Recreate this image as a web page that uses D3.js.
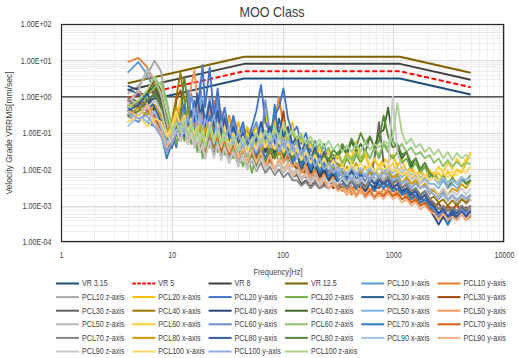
<!DOCTYPE html>
<html>
<head>
<meta charset="utf-8">
<script src="https://cdn.jsdelivr.net/npm/d3@7"></script>
<style>
  body { margin: 0; background: #fff; }
  text { font-family: "Liberation Sans", Arial, sans-serif; fill: #404040; }
</style>
</head>
<body>
<script>
// frequency points [Hz] shared by every PCL series
var freqHz = [4,5,6,7,8,9,10,11,12,13,14,15,16,17,18,19,20,
  22,24,26,28,30,33,36,40,44,48,
  53,58,64,70,77,85,93,102,112,123,
  135,148,163,179,197,216,238,261,287,316,
  347,382,420,462,508,559,615,676,744,818,
  900,990,1089,1198,1318,1450,1595,1754,1930,2123,
  2335,2569,2826,3108,3419,3761,4137,4551,5000];

// velocity criteria curves
var vrFreq = [4, 45, 1150, 5000];
var vr315 = [0.59, 3.15, 3.15, 1.15];
var vr5 = [0.94, 5, 5, 1.82];
var vr8 = [1.5, 8, 8, 2.91];
var vr125 = [2.34, 12.5, 12.5, 4.55];

// measured spectra [mm/sec]
var pcl10x = [4.6,9,4,1.5,0.6,0.12,0.08,0.3,0.15,0.4,0.2,1.2,0.3,0.15,2.5,0.4,0.1,
  0.6,0.15,0.9,0.12,0.3,0.08,0.25,0.06,0.15,0.05,
  0.12,0.04,0.2,0.05,0.15,0.06,0.1,0.03,0.08,0.025,
  0.04,0.015,0.05,0.012,0.03,0.01,0.025,0.008,0.015,0.006,
  0.008,0.004,0.01,0.005,0.007,0.004,0.009,0.005,0.006,0.003,
  0.006,0.004,0.007,0.003,0.004,0.002,0.003,0.0015,0.002,0.001,
  0.0007,0.0004,0.0009,0.0005,0.0008,0.0006,0.001,0.0005,0.0008];
var pcl10y = [9,11.7,6.5,2,0.5,0.1,0.06,0.2,0.5,0.15,0.3,0.08,0.5,0.9,0.6,0.2,0.3,
  0.25,0.8,0.2,0.4,0.1,0.3,0.08,0.2,0.05,0.12,
  0.05,0.1,0.03,0.08,0.04,0.2,1.0,0.15,0.05,0.03,
  0.02,0.03,0.012,0.02,0.01,0.015,0.007,0.01,0.005,0.006,
  0.0025,0.004,0.002,0.003,0.0022,0.0035,0.002,0.003,0.0018,0.003,
  0.002,0.003,0.0018,0.0025,0.0015,0.002,0.0012,0.0018,0.001,0.0014,
  0.0008,0.0012,0.0006,0.0009,0.0007,0.001,0.0006,0.0009,0.0005];
var pcl10z = [1.2,2,4,9.8,5,0.6,0.1,0.2,0.08,0.15,0.06,0.1,0.2,0.07,0.12,0.05,0.08,
  0.1,0.25,0.07,0.15,0.05,0.12,0.04,0.08,0.03,0.06,
  0.03,0.06,0.02,0.05,0.02,0.04,0.025,0.05,0.015,0.03,
  0.012,0.02,0.008,0.012,0.006,0.01,0.005,0.008,0.004,0.006,
  0.005,0.008,0.004,0.006,0.005,0.007,0.004,0.006,0.005,0.008,
  0.01,0.006,0.008,0.004,0.006,0.003,0.005,0.003,0.004,0.002,
  0.003,0.0018,0.0025,0.0015,0.002,0.0012,0.0018,0.0011,0.0015];
var pcl20x = [0.6,0.5,0.8,0.4,0.3,0.1,0.15,0.05,0.2,0.08,0.3,0.1,0.4,0.15,0.6,0.2,0.3,
  0.15,0.4,0.12,0.3,0.1,0.25,0.08,0.2,0.06,0.15,
  0.08,0.15,0.05,0.4,0.08,0.2,0.06,0.15,0.07,0.2,
  0.05,0.09,0.03,0.06,0.025,0.04,0.02,0.035,0.015,0.03,
  0.015,0.03,0.02,0.05,0.015,0.025,0.01,0.02,0.012,0.02,
  0.015,0.025,0.012,0.02,0.008,0.012,0.007,0.01,0.006,0.009,
  0.006,0.008,0.005,0.009,0.006,0.01,0.008,0.015,0.03];
var pcl20y = [0.8,1.2,0.5,0.3,0.15,0.05,0.1,0.04,0.2,0.08,0.3,0.1,0.8,0.2,1.5,7.4,0.5,
  6.4,0.3,1.7,0.2,0.5,0.1,0.3,0.08,0.2,0.06,
  0.15,0.4,2.1,0.2,0.1,0.3,0.5,1.7,0.25,0.1,
  0.15,0.05,0.1,0.03,0.06,0.02,0.05,0.015,0.025,0.01,
  0.015,0.006,0.012,0.005,0.009,0.004,0.008,0.005,0.007,0.004,
  0.006,0.004,0.005,0.003,0.004,0.002,0.003,0.0015,0.002,0.0012,
  0.0008,0.0005,0.0007,0.0004,0.0006,0.0005,0.0008,0.0006,0.0009];
var pcl20z = [0.5,0.7,1.5,2.5,1.0,0.3,0.1,0.05,0.15,0.06,0.2,0.05,0.1,0.03,0.08,0.02,0.05,
  0.04,0.1,0.03,0.08,0.025,0.06,0.02,0.04,0.012,0.03,
  0.008,0.03,0.015,0.05,0.02,0.04,0.015,0.03,0.02,0.04,
  0.02,0.035,0.015,0.025,0.01,0.02,0.012,0.02,0.01,0.015,
  0.01,0.02,0.012,0.025,0.015,0.03,0.02,0.04,0.02,0.05,
  0.03,0.02,0.03,0.015,0.02,0.01,0.015,0.008,0.012,0.006,
  0.008,0.005,0.007,0.004,0.006,0.004,0.006,0.005,0.007];
var pcl30x = [1.6,1.2,0.8,0.5,0.2,0.04,0.06,0.15,0.1,0.3,0.12,0.2,0.08,0.15,0.05,0.1,0.04,
  0.15,0.05,0.2,0.06,0.15,0.05,0.12,0.04,0.08,0.03,
  0.06,0.02,0.1,0.03,0.08,0.025,0.06,0.02,0.04,0.015,
  0.025,0.01,0.02,0.008,0.015,0.007,0.012,0.006,0.009,0.005,
  0.005,0.003,0.006,0.004,0.005,0.003,0.004,0.003,0.005,0.004,
  0.006,0.004,0.005,0.003,0.004,0.002,0.003,0.002,0.0025,0.0015,
  0.001,0.0006,0.0009,0.0005,0.0008,0.0006,0.0009,0.0007,0.001];
var pcl30y = [0.8,0.5,1.2,3,1.5,0.2,0.05,0.8,1.5,0.3,0.1,0.2,0.06,0.15,0.05,0.1,0.3,
  0.12,0.3,0.08,0.2,0.06,0.15,0.05,0.1,0.03,0.07,
  0.03,0.06,0.02,0.05,0.015,0.03,0.08,0.4,0.04,0.015,
  0.01,0.015,0.006,0.01,0.005,0.008,0.004,0.006,0.003,0.004,
  0.003,0.0045,0.0025,0.004,0.003,0.004,0.0025,0.0035,0.003,0.005,
  0.003,0.004,0.0025,0.003,0.002,0.0025,0.0015,0.002,0.0012,0.0015,
  0.0009,0.0012,0.0007,0.001,0.0008,0.0011,0.0007,0.0009,0.0008];
var pcl30z = [1.0,0.7,0.5,1.5,0.6,0.1,0.04,0.1,0.06,0.15,0.05,0.12,0.04,0.08,0.03,0.06,0.025,
  0.08,0.03,0.06,0.025,0.05,0.02,0.04,0.015,0.03,0.012,
  0.02,0.01,0.025,0.012,0.02,0.01,0.015,0.008,0.012,0.006,
  0.007,0.004,0.005,0.0035,0.0045,0.003,0.004,0.003,0.004,0.003,
  0.004,0.003,0.005,0.003,0.004,0.005,0.004,0.02,0.2,0.015,
  0.006,0.004,0.005,0.003,0.004,0.002,0.003,0.002,0.0025,0.0015,
  0.0012,0.0008,0.001,0.0007,0.0009,0.0007,0.001,0.0008,0.001];
var pcl40x = [0.4,0.3,0.6,0.5,0.3,0.08,0.2,1.0,4.5,0.8,0.15,0.3,0.08,0.2,0.06,0.12,0.05,
  0.2,0.06,0.15,0.05,0.12,0.04,0.1,0.03,0.07,0.025,
  0.05,0.02,0.04,0.015,0.03,0.02,0.04,0.015,0.025,0.012,
  0.015,0.008,0.012,0.006,0.01,0.006,0.009,0.005,0.007,0.004,
  0.006,0.004,0.008,0.005,0.007,0.004,0.006,0.005,0.007,0.005,
  0.006,0.004,0.005,0.003,0.004,0.0025,0.003,0.002,0.0025,0.0015,
  0.0018,0.0012,0.0015,0.001,0.0014,0.001,0.0015,0.0012,0.002];
var pcl40y = [2.0,1.5,0.8,0.4,0.15,0.03,0.05,0.12,0.08,0.2,0.1,0.3,0.1,0.2,0.06,0.15,0.05,
  0.25,0.08,0.2,0.06,0.15,0.05,0.1,0.04,0.08,0.03,
  0.06,0.025,0.1,0.03,0.07,0.025,0.12,0.04,0.06,0.02,
  0.03,0.012,0.02,0.008,0.015,0.006,0.01,0.005,0.008,0.004,
  0.006,0.003,0.005,0.003,0.004,0.0025,0.004,0.003,0.005,0.004,
  0.005,0.003,0.004,0.002,0.003,0.0015,0.002,0.0012,0.0015,0.0008,
  0.0005,0.0003,0.0005,0.0003,0.0006,0.0004,0.0007,0.0005,0.0007];
var pcl40z = [0.3,0.5,1.2,2.0,0.8,0.15,0.06,0.2,0.1,0.3,0.08,0.2,0.06,0.12,0.04,0.08,0.03,
  0.1,0.04,0.08,0.03,0.06,0.025,0.05,0.02,0.04,0.015,
  0.03,0.012,0.03,0.015,0.04,0.02,0.05,0.02,0.035,0.02,
  0.03,0.015,0.03,0.018,0.025,0.012,0.03,0.015,0.025,0.02,
  0.04,0.025,0.06,0.03,0.05,0.03,0.08,0.04,0.1,0.12,
  0.5,0.06,0.04,0.02,0.03,0.012,0.02,0.01,0.015,0.008,
  0.006,0.004,0.006,0.003,0.005,0.004,0.006,0.004,0.005];
var pcl50x = [0.5,0.8,0.4,0.6,0.2,0.05,0.1,0.3,0.12,0.6,0.2,0.4,0.1,0.3,0.8,0.2,0.1,
  0.35,0.1,0.25,0.08,0.2,0.06,0.15,0.05,0.1,0.04,
  0.08,0.04,0.12,0.05,0.15,0.05,0.1,0.04,0.07,0.03,
  0.04,0.02,0.03,0.015,0.025,0.012,0.02,0.01,0.015,0.008,
  0.01,0.006,0.012,0.007,0.01,0.006,0.01,0.007,0.012,0.008,
  0.012,0.008,0.01,0.006,0.008,0.005,0.007,0.004,0.006,0.004,
  0.004,0.003,0.005,0.003,0.004,0.003,0.005,0.004,0.005];
var pcl50y = [0.7,1.5,0.6,0.3,0.15,0.04,0.08,0.2,0.4,0.1,0.6,2.0,5.4,0.8,0.2,0.4,0.1,
  0.5,0.12,0.3,0.08,0.2,0.06,0.12,0.04,0.09,0.03,
  0.06,0.025,0.05,0.02,0.04,0.02,0.05,0.015,0.03,0.012,
  0.015,0.008,0.012,0.006,0.009,0.005,0.007,0.004,0.006,0.003,
  0.004,0.0025,0.0035,0.002,0.003,0.002,0.003,0.0018,0.0025,0.002,
  0.003,0.002,0.0025,0.0015,0.002,0.0012,0.0016,0.001,0.0013,0.0009,
  0.0007,0.0005,0.0008,0.0005,0.0007,0.0005,0.0008,0.0006,0.0009];
var pcl50z = [0.6,1.5,6,3,1.2,0.2,0.05,0.1,0.06,0.12,0.05,0.1,0.04,0.08,0.03,0.06,0.025,
  0.08,0.03,0.06,0.025,0.05,0.02,0.04,0.015,0.03,0.012,
  0.025,0.012,0.03,0.012,0.025,0.01,0.02,0.01,0.015,0.008,
  0.01,0.006,0.008,0.005,0.007,0.004,0.006,0.004,0.005,0.004,
  0.005,0.004,0.006,0.004,0.005,0.004,0.006,0.005,0.007,0.005,
  0.008,0.005,0.006,0.004,0.005,0.003,0.004,0.003,0.0035,0.0025,
  0.002,0.0015,0.002,0.0013,0.0018,0.0013,0.0018,0.0014,0.002];
var pcl60x = [0.25,0.4,0.3,0.2,0.15,0.06,0.12,0.3,0.8,0.2,0.5,0.15,0.3,0.1,0.25,0.08,0.2,
  0.1,0.3,0.08,0.2,0.07,0.15,0.05,0.12,0.04,0.1,
  0.04,0.1,0.03,0.08,0.03,0.12,0.04,0.2,0.06,0.12,
  0.04,0.07,0.03,0.05,0.02,0.04,0.015,0.03,0.012,0.025,
  0.012,0.03,0.015,0.06,0.02,0.03,0.012,0.02,0.01,0.015,
  0.01,0.015,0.008,0.012,0.006,0.01,0.005,0.008,0.006,0.01,
  0.007,0.012,0.008,0.015,0.01,0.02,0.012,0.02,0.025];
var pcl60y = [0.3,0.2,0.4,0.25,0.12,0.03,0.06,0.15,0.08,0.5,1.5,0.3,0.15,0.4,0.1,0.8,0.2,
  0.9,0.2,0.5,0.12,0.3,0.08,0.2,0.06,0.12,0.04,
  0.1,0.2,0.06,0.8,0.1,0.05,0.15,0.08,0.12,0.04,
  0.06,0.025,0.04,0.015,0.03,0.012,0.02,0.009,0.015,0.007,
  0.009,0.005,0.008,0.005,0.007,0.004,0.006,0.004,0.006,0.004,
  0.005,0.003,0.004,0.0025,0.003,0.002,0.0025,0.0015,0.002,0.0012,
  0.0008,0.0005,0.0008,0.0005,0.0007,0.0005,0.0008,0.0006,0.0008];
var pcl60z = [0.4,0.6,1.0,1.8,2.5,0.8,0.15,0.08,0.2,0.1,0.25,0.08,0.15,0.05,0.1,0.04,0.08,
  0.06,0.12,0.05,0.1,0.04,0.08,0.03,0.06,0.025,0.05,
  0.03,0.06,0.04,0.08,0.05,0.1,0.06,0.12,0.06,0.1,
  0.05,0.08,0.04,0.06,0.03,0.05,0.025,0.04,0.02,0.03,
  0.015,0.025,0.018,0.03,0.02,0.035,0.02,0.04,0.025,0.05,
  0.04,0.06,0.035,0.05,0.03,0.04,0.025,0.03,0.02,0.025,
  0.015,0.02,0.012,0.018,0.012,0.016,0.012,0.015,0.014];
var pcl70x = [0.5,0.3,0.2,0.15,0.1,0.02,0.05,0.1,0.3,0.6,0.2,0.4,0.12,0.3,0.08,0.2,0.06,
  0.3,0.1,0.4,0.08,0.15,0.06,0.12,0.04,0.08,0.03,
  0.06,0.025,0.05,0.02,0.04,0.6,0.06,0.03,0.04,0.015,
  0.03,0.012,0.025,0.01,0.02,0.008,0.015,0.006,0.01,0.005,
  0.005,0.003,0.005,0.003,0.004,0.003,0.004,0.0025,0.004,0.003,
  0.004,0.0025,0.003,0.002,0.0025,0.0015,0.002,0.0012,0.0015,0.001,
  0.0006,0.0004,0.0006,0.0003,0.0005,0.0004,0.0006,0.0004,0.0006];
var pcl70y = [0.5,0.8,0.4,0.3,0.1,0.03,0.06,0.15,0.1,0.25,0.08,0.15,0.05,0.12,0.04,0.08,0.03,
  0.12,0.04,0.1,0.03,0.07,0.025,0.05,0.02,0.04,0.015,
  0.03,0.012,0.025,0.01,0.02,0.009,0.015,0.008,0.012,0.006,
  0.008,0.005,0.007,0.004,0.006,0.004,0.005,0.003,0.004,0.0028,
  0.003,0.002,0.0028,0.0018,0.0025,0.0018,0.0025,0.0016,0.0022,0.0018,
  0.0025,0.0018,0.0022,0.0015,0.0018,0.0012,0.0015,0.001,0.0012,0.0008,
  0.0006,0.0004,0.0006,0.0004,0.0005,0.0004,0.0006,0.0004,0.0005];
var pcl70z = [0.8,0.6,0.5,0.8,0.4,0.08,0.04,0.1,0.06,0.12,0.05,0.1,0.04,0.07,0.03,0.05,0.02,
  0.07,0.025,0.05,0.02,0.04,0.015,0.03,0.012,0.025,0.01,
  0.018,0.009,0.015,0.008,0.012,0.007,0.01,0.006,0.008,0.005,
  0.005,0.0035,0.0045,0.003,0.004,0.003,0.0035,0.003,0.004,0.003,
  0.004,0.003,0.005,0.0035,0.004,0.003,0.005,0.004,0.006,0.004,
  0.006,0.004,0.005,0.003,0.004,0.0025,0.003,0.002,0.0025,0.0015,
  0.0012,0.0008,0.001,0.0007,0.0009,0.0007,0.001,0.0008,0.001];
var pcl80x = [0.3,0.5,0.3,0.6,0.3,0.1,0.2,0.5,0.2,0.15,0.4,0.1,0.25,0.08,0.2,0.06,0.15,
  0.08,0.25,0.07,0.2,0.06,0.15,0.05,0.1,0.04,0.08,
  0.035,0.07,0.03,0.06,0.03,0.05,0.025,0.08,0.03,0.05,
  0.02,0.035,0.015,0.025,0.012,0.02,0.01,0.016,0.008,0.014,
  0.007,0.012,0.008,0.015,0.008,0.012,0.007,0.01,0.006,0.01,
  0.008,0.006,0.007,0.004,0.006,0.004,0.005,0.003,0.004,0.003,
  0.0025,0.002,0.003,0.002,0.003,0.0025,0.004,0.003,0.005];
var pcl80y = [0.4,0.6,1.2,0.5,0.2,0.05,0.04,0.1,0.2,0.08,0.15,0.4,0.2,1.2,0.3,0.6,0.15,
  0.7,0.15,0.4,0.1,0.25,0.07,0.15,0.05,0.1,0.04,
  0.1,0.06,0.2,0.07,0.15,0.05,0.25,0.08,0.15,0.05,
  0.08,0.03,0.06,0.02,0.04,0.015,0.03,0.012,0.02,0.009,
  0.01,0.006,0.009,0.005,0.007,0.004,0.006,0.004,0.005,0.004,
  0.005,0.003,0.004,0.0025,0.003,0.002,0.0025,0.0015,0.002,0.0012,
  0.0009,0.0006,0.0008,0.0005,0.0007,0.0005,0.0007,0.0005,0.0007];
var pcl80z = [0.3,0.4,0.8,1.2,0.5,0.1,0.05,0.15,0.3,3.5,0.5,0.2,0.1,0.2,0.06,0.12,0.04,
  0.15,0.05,0.12,0.04,0.08,0.03,0.06,0.02,0.04,0.015,
  0.025,0.012,0.03,0.015,0.04,0.02,0.05,0.025,0.04,0.02,
  0.03,0.02,0.035,0.02,0.03,0.015,0.025,0.018,0.035,0.025,
  0.05,0.03,0.07,0.04,0.1,0.05,0.08,0.04,0.06,0.3,
  0.08,0.04,0.05,0.025,0.03,0.015,0.02,0.01,0.015,0.008,
  0.006,0.004,0.006,0.004,0.005,0.004,0.006,0.004,0.005];
var pcl90x = [0.15,0.3,0.2,0.4,0.15,0.05,0.08,0.2,0.1,0.3,0.08,0.15,0.06,0.12,0.05,0.1,0.04,
  0.15,0.05,0.12,0.045,0.1,0.04,0.08,0.03,0.06,0.025,
  0.06,0.03,0.08,0.04,0.1,0.04,0.08,0.03,0.06,0.025,
  0.04,0.02,0.035,0.015,0.025,0.012,0.02,0.01,0.016,0.009,
  0.01,0.007,0.012,0.008,0.011,0.007,0.012,0.008,0.012,0.009,
  0.012,0.009,0.011,0.008,0.01,0.007,0.008,0.006,0.007,0.005,
  0.006,0.004,0.006,0.004,0.005,0.004,0.006,0.005,0.006];
var pcl90y = [0.4,0.3,0.6,0.2,0.1,0.04,0.07,0.12,0.06,0.15,0.05,0.1,0.04,0.08,0.3,0.1,0.05,
  0.2,0.06,0.12,0.04,0.08,0.03,0.06,0.02,0.04,0.015,
  0.035,0.015,0.03,0.012,0.025,0.01,0.02,0.009,0.015,0.007,
  0.009,0.005,0.008,0.004,0.006,0.0035,0.005,0.003,0.004,0.0025,
  0.003,0.002,0.0028,0.0017,0.0025,0.0016,0.0022,0.0015,0.002,0.0015,
  0.0022,0.0015,0.0018,0.0012,0.0015,0.001,0.0012,0.0008,0.001,0.0007,
  0.0006,0.0004,0.0006,0.0004,0.0005,0.0004,0.0006,0.0004,0.0006];
var pcl90z = [0.2,0.3,0.5,0.8,0.4,0.1,0.05,0.12,0.06,0.15,0.05,0.1,0.04,0.08,0.03,0.05,0.02,
  0.06,0.02,0.05,0.018,0.04,0.015,0.03,0.012,0.025,0.01,
  0.02,0.01,0.02,0.01,0.015,0.008,0.015,0.008,0.012,0.006,
  0.009,0.005,0.007,0.004,0.006,0.004,0.006,0.004,0.005,0.004,
  0.006,0.004,0.007,0.005,0.006,0.004,0.007,0.005,0.008,0.006,
  0.01,1.0,0.03,0.01,0.008,0.005,0.006,0.004,0.005,0.003,
  0.003,0.002,0.003,0.002,0.0025,0.002,0.003,0.002,0.003];
var pcl100x = [0.2,0.3,0.15,0.25,0.2,0.08,0.15,0.4,0.15,0.3,0.1,0.25,0.08,0.2,0.06,0.15,0.05,
  0.2,0.06,0.18,0.05,0.15,0.045,0.1,0.04,0.08,0.03,
  0.07,0.035,0.1,0.04,0.08,0.035,0.06,0.03,0.05,0.025,
  0.035,0.018,0.03,0.015,0.025,0.012,0.02,0.011,0.018,0.01,
  0.012,0.009,0.014,0.01,0.015,0.01,0.013,0.009,0.012,0.01,
  0.012,0.009,0.01,0.007,0.009,0.006,0.008,0.005,0.007,0.005,
  0.006,0.005,0.008,0.006,0.009,0.007,0.01,0.008,0.012];
var pcl100y = [0.35,0.25,0.3,0.15,0.08,0.03,0.05,0.1,0.2,0.1,0.3,0.12,0.5,0.15,0.35,0.1,0.25,
  0.12,0.3,0.1,0.2,0.07,0.15,0.05,0.1,0.04,0.08,
  0.04,0.1,0.04,0.12,0.04,0.09,0.03,0.07,0.025,0.05,
  0.02,0.035,0.015,0.025,0.012,0.02,0.01,0.015,0.008,0.012,
  0.006,0.008,0.005,0.008,0.005,0.007,0.005,0.008,0.006,0.008,
  0.007,0.005,0.006,0.004,0.005,0.003,0.004,0.003,0.0035,0.0025,
  0.002,0.0015,0.0022,0.0015,0.002,0.0015,0.002,0.0016,0.002];
var pcl100z = [0.5,0.8,1.5,3.5,2.0,0.5,0.12,0.2,0.1,0.25,0.08,0.18,0.06,0.15,0.05,0.12,0.04,
  0.15,0.06,0.12,0.05,0.1,0.04,0.08,0.035,0.07,0.04,
  0.06,0.1,0.05,0.12,0.06,0.15,0.07,0.2,0.08,0.12,
  0.07,0.1,0.05,0.08,0.045,0.065,0.04,0.06,0.035,0.05,
  0.03,0.045,0.03,0.05,0.03,0.06,0.035,0.05,0.04,0.06,
  0.05,0.08,0.65,0.1,0.05,0.07,0.04,0.05,0.03,0.04,
  0.025,0.035,0.02,0.03,0.018,0.028,0.02,0.025,0.02];

var xTicks = [1, 10, 100, 1000, 10000];
var xTickLabels = ["1", "10", "100", "1000", "10000"];
var yTicks = [1e-4, 1e-3, 1e-2, 1e-1, 1, 10, 100];
var yTickLabels = ["1.00E-04", "1.00E-03", "1.00E-02", "1.00E-01", "1.00E+00", "1.00E+01", "1.00E+02"];

var vrNames = ["VR 3.15", "VR 5", "VR 8", "VR 12.5"];
var vrValues = [vr315, vr5, vr8, vr125];
var vrColors = ["#1f4e79", "#ff0000", "#404040", "#7f6000"];

var pclNames = ["PCL10", "PCL20", "PCL30", "PCL40", "PCL50", "PCL60", "PCL70", "PCL80", "PCL90", "PCL100"];
var axisNames = ["x-axis", "y-axis", "z-axis"];
var pclValues = [pcl10x, pcl10y, pcl10z, pcl20x, pcl20y, pcl20z, pcl30x, pcl30y, pcl30z,
  pcl40x, pcl40y, pcl40z, pcl50x, pcl50y, pcl50z, pcl60x, pcl60y, pcl60z,
  pcl70x, pcl70y, pcl70z, pcl80x, pcl80y, pcl80z, pcl90x, pcl90y, pcl90z,
  pcl100x, pcl100y, pcl100z];
// excel office colour cycle
var pclColors = ["#5b9bd5", "#ed7d31", "#a5a5a5", "#ffc000", "#4472c4", "#70ad47",
  "#255e91", "#9e480e", "#636363", "#997300", "#264478", "#43682b",
  "#7cafdd", "#f1975a", "#b7b7b7", "#ffcd33", "#698ed0", "#8cc168",
  "#327dc2", "#d26012", "#848484", "#cc9a00", "#335aa1", "#5a8a39",
  "#9dc3e6", "#f4b183", "#c9c9c9", "#ffd966", "#8faadc", "#a9d18e"];

var W = 518, H = 358;
var m = {left: 61, right: 504, top: 24, bottom: 242};
var narrow = "scale(0.84,1)"; // stands in for the condensed excel font

var series = [];
vrNames.forEach(function(n, i) {
  series.push({name: n, color: vrColors[i], dash: i == 1 ? "5,2.5" : null, width: 2,
    pts: vrFreq.map(function(f, j) { return [f, vrValues[i][j]]; })});
});
pclValues.forEach(function(vals, i) {
  series.push({name: pclNames[Math.floor(i / 3)] + " " + axisNames[i % 3], color: pclColors[i], dash: null, width: 1.8,
    pts: freqHz.map(function(f, j) { return [f, vals[j]]; })});
});

var svg = d3.select("body").append("svg")
  .attr("width", W).attr("height", H);
svg.append("rect").attr("width", W).attr("height", H).attr("fill", "#fff");

var x = d3.scaleLog().domain([1, 10000]).range([m.left, m.right]);
var y = d3.scaleLog().domain([1e-4, 100]).range([m.bottom, m.top]);

// gridlines (minor first, majors over them)
var grid = svg.append("g");
var xg = x.ticks(), yg = y.ticks();
function isMajor(v) { return Math.abs(Math.log10(v) - Math.round(Math.log10(v))) < 1e-6; }
grid.selectAll(".vx").data(xg.filter(function(v) { return !isMajor(v); })).enter().append("line")
  .attr("x1", function(d) { return Math.round(x(d)) + 0.5; }).attr("x2", function(d) { return Math.round(x(d)) + 0.5; })
  .attr("y1", m.top).attr("y2", m.bottom).attr("stroke", "#eeeeee");
grid.selectAll(".hy").data(yg.filter(function(v) { return !isMajor(v); })).enter().append("line")
  .attr("y1", function(d) { return Math.round(y(d)) + 0.5; }).attr("y2", function(d) { return Math.round(y(d)) + 0.5; })
  .attr("x1", m.left).attr("x2", m.right).attr("stroke", "#eeeeee");
grid.selectAll(".vX").data(xg.filter(isMajor)).enter().append("line")
  .attr("x1", function(d) { return Math.round(x(d)) + 0.5; }).attr("x2", function(d) { return Math.round(x(d)) + 0.5; })
  .attr("y1", m.top).attr("y2", m.bottom).attr("stroke", "#d9d9d9");
grid.selectAll(".hY").data(yg.filter(isMajor)).enter().append("line")
  .attr("y1", function(d) { return Math.round(y(d)) + 0.5; }).attr("y2", function(d) { return Math.round(y(d)) + 0.5; })
  .attr("x1", m.left).attr("x2", m.right).attr("stroke", "#d9d9d9");

// horizontal axis crosses at 1
svg.append("line").attr("x1", m.left).attr("x2", m.right)
  .attr("y1", y(1)).attr("y2", y(1)).attr("stroke", "#595959").attr("stroke-width", 1.5);

var line = d3.line()
  .defined(function(d) { return d[0] != null && d[1] > 0; })
  .x(function(d) { return x(d[0]); })
  .y(function(d) { return y(d[1]); });

var plot = svg.append("g");
plot.selectAll("path").data(series).enter().append("path")
  .attr("d", function(d) { return line(d.pts); })
  .attr("fill", "none")
  .attr("stroke", function(d) { return d.color; })
  .attr("stroke-width", function(d) { return d.width; })
  .attr("stroke-dasharray", function(d) { return d.dash; })
  .attr("stroke-linejoin", "round");

// plot frame
svg.append("rect").attr("x", m.left + 0.5).attr("y", m.top + 0.5)
  .attr("width", m.right - m.left - 1).attr("height", m.bottom - m.top - 1)
  .attr("fill", "none").attr("stroke", "#262626").attr("stroke-width", 1.2);

// axes
var xAxis = svg.append("g").attr("transform", "translate(0," + (m.bottom + 7) + ")")
  .call(d3.axisBottom(x).tickValues(xTicks).tickSize(0)
    .tickFormat(function(d, i) { return xTickLabels[i]; }));
var yAxis = svg.append("g").attr("transform", "translate(" + (m.left - 7) + ",0)")
  .call(d3.axisLeft(y).tickValues(yTicks).tickSize(0)
    .tickFormat(function(d, i) { return yTickLabels[i]; }));
[xAxis, yAxis].forEach(function(a) {
  a.select(".domain").remove();
  a.selectAll("text").attr("font-size", 8.5).attr("fill", "#404040")
    .attr("transform", narrow)
    .style("font-family", '"Liberation Sans", Arial, sans-serif');
});

svg.append("text").attr("transform", "translate(272,17) scale(0.9,1)").attr("text-anchor", "middle")
  .attr("font-size", 14).text("MOO Class");
svg.append("text").attr("transform", "translate(278,275) " + narrow).attr("text-anchor", "middle")
  .attr("font-size", 9).text("Frequency[Hz]");
svg.append("text").attr("transform", "translate(12," + ((m.top + m.bottom) / 2) + ") rotate(-90) scale(0.9,1)")
  .attr("text-anchor", "middle").attr("font-size", 9.5).text("Velocity Grade VRRMS[mm/sec]");

// legend, 6 entries per row
var leg = svg.append("g").selectAll("g").data(series).enter().append("g")
  .attr("transform", function(d, i) {
    return "translate(" + (82 + (i % 6) * 76.3) + "," + (283.5 + Math.floor(i / 6) * 13.6) + ")";
  });
leg.append("line").attr("x1", -26).attr("x2", -3)
  .attr("stroke", function(d) { return d.color; })
  .attr("stroke-width", 2)
  .attr("stroke-dasharray", function(d) { return d.dash ? "3.5,1.5" : null; });
leg.append("text").attr("x", 0).attr("dy", "0.35em").attr("font-size", 8.5)
  .attr("transform", narrow)
  .text(function(d) { return d.name; });
</script>
</body>
</html>
